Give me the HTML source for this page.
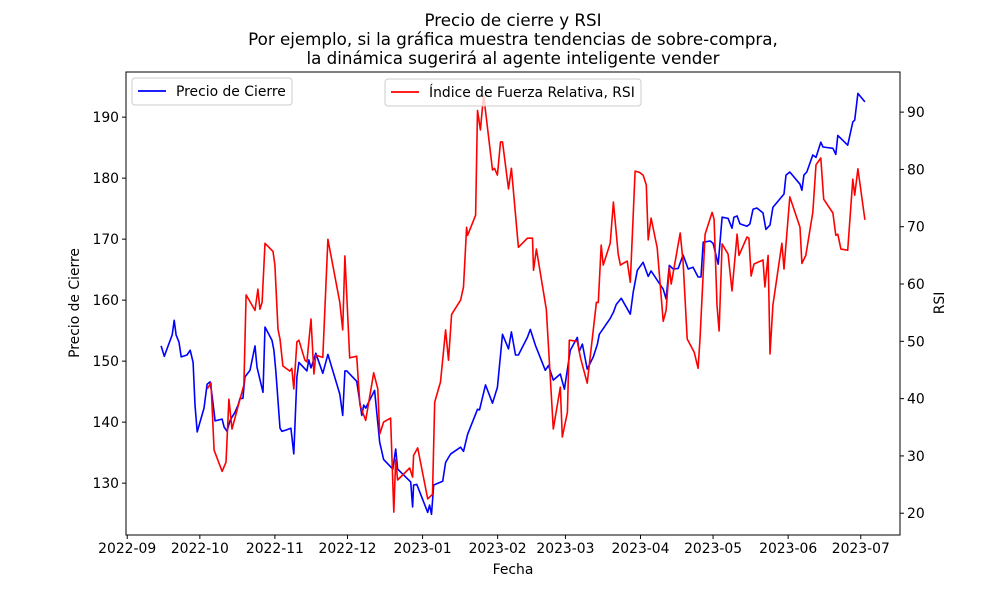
<!DOCTYPE html>
<html><head><meta charset="utf-8"><style>
body{margin:0;background:#fff;}
svg{display:block;font-family:"DejaVu Sans","Liberation Sans",sans-serif;}
</style></head><body>
<svg id="chart" width="1000" height="600"></svg>
<script>
const priceDays=[14.0,15.3,16.9,18.6,19.4,20.2,21.4,22.3,24.7,26.0,27.2,28.0,28.9,31.7,33.0,34.2,35.0,36.3,39.2,40.0,41.2,42.5,44.5,45.8,46.6,47.8,48.6,50.7,52.8,53.6,56.1,56.9,59.8,60.6,61.4,63.1,63.9,65.5,67.6,68.8,70.1,70.9,74.2,75.0,75.9,77.9,80.8,82.9,87.8,89.0,89.9,90.7,94.8,96.9,97.7,98.5,102.2,104.3,105.9,109.7,110.9,111.7,117.1,117.9,118.3,119.6,124.1,124.9,125.7,126.6,130.3,131.5,133.6,137.7,138.9,140.6,144.7,145.5,148.0,150.9,152.9,155.0,157.5,158.7,160.4,161.6,165.3,166.5,168.6,172.7,174.0,176.0,178.9,180.6,183.0,185.9,186.7,188.0,190.0,192.5,194.2,195.0,199.5,200.8,202.0,204.1,207.8,209.0,210.7,213.1,215.2,216.4,221.4,222.6,223.9,225.5,227.6,229.6,231.7,233.7,235.8,237.0,237.9,240.8,242.0,244.1,245.7,248.2,249.8,250.6,251.9,253.1,256.0,257.2,258.5,260.1,262.6,263.8,265.5,266.7,271.3,272.1,273.7,277.9,278.7,279.5,280.7,283.2,284.5,286.5,287.4,291.5,292.7,293.5,297.6,299.7,300.5,301.8,304.7];
const priceValues=[152.5,150.8,152.5,154.3,156.7,154.3,153.1,150.7,151.0,151.8,149.8,142.8,138.4,142.3,146.2,146.6,144.6,140.2,140.5,139.2,138.5,140.3,141.6,142.8,143.9,143.9,147.4,148.5,152.5,149.0,144.9,155.6,153.4,151.8,148.2,139.0,138.5,138.7,139.0,134.8,147.4,149.8,148.4,150.2,148.9,151.3,148.0,151.1,144.6,141.1,148.4,148.4,146.7,141.1,142.8,142.3,145.2,136.7,133.9,132.3,135.6,132.3,130.2,126.1,129.7,129.8,125.2,126.4,124.9,129.7,130.3,133.4,134.8,135.9,135.2,138.0,142.1,142.0,146.1,143.1,145.7,154.4,152.0,154.8,151.0,151.0,153.9,155.2,152.6,148.5,149.3,146.9,147.9,145.4,151.8,153.9,151.6,152.8,148.7,150.7,152.8,154.4,157.0,158.0,159.3,160.3,157.7,161.3,164.9,166.2,163.9,164.8,161.8,160.2,165.7,165.1,165.2,167.4,165.1,165.4,163.8,163.8,169.5,169.7,169.3,165.9,173.6,173.4,171.8,173.6,173.8,172.5,172.1,172.5,174.9,175.1,174.3,171.6,172.3,175.2,177.4,180.5,181.0,179.0,178.0,180.5,181.0,183.8,183.4,185.9,185.1,184.9,183.9,187.0,185.4,189.2,189.5,193.9,192.5];
const rsiDays=[33.0,34.6,35.9,39.2,40.8,42.0,43.3,46.6,48.2,49.1,52.8,54.0,54.8,55.7,56.9,60.2,61.0,62.3,63.1,64.3,67.2,68.0,68.8,70.1,70.9,73.4,74.2,75.9,77.1,77.9,80.8,82.9,87.8,89.0,89.9,91.9,94.8,96.1,98.5,101.8,103.5,104.3,105.9,108.8,110.1,110.9,111.7,116.7,117.9,118.3,120.0,124.1,126.1,127.0,129.4,131.5,132.7,134.0,137.7,138.9,140.2,140.6,143.9,144.7,145.9,147.2,150.9,151.7,152.9,154.2,155.0,157.5,158.7,161.6,165.3,167.4,167.8,169.0,173.1,176.0,178.9,179.7,181.8,182.6,185.9,187.2,190.0,191.3,193.8,194.6,195.8,196.6,199.5,200.8,202.8,203.7,206.5,207.8,209.8,211.5,213.1,214.4,215.2,216.4,218.9,221.4,222.6,223.9,224.7,228.4,229.6,231.3,234.2,235.8,236.6,238.7,241.6,242.4,243.6,244.5,245.7,248.2,249.8,251.9,252.7,256.0,256.8,257.7,258.9,262.6,263.4,264.7,265.5,266.7,270.4,271.3,273.7,277.9,278.7,280.3,283.2,284.5,286.5,287.7,291.5,292.7,293.5,294.8,297.6,299.7,300.5,301.8,304.7];
const rsiValues=[41.7,42.7,31.0,27.3,28.9,39.9,34.7,39.9,42.4,58.1,55.4,59.1,55.6,56.8,67.1,65.7,63.3,52.1,50.4,45.7,44.8,45.3,41.7,49.9,50.2,46.7,46.4,53.9,44.3,47.6,47.2,67.8,56.8,52.0,64.9,47.1,47.4,38.9,36.2,44.5,41.7,33.8,35.9,36.6,20.2,29.4,25.8,27.9,26.3,30.1,31.4,22.5,23.3,39.4,42.9,52.0,46.7,54.7,57.2,59.5,69.9,68.5,72.0,90.3,86.9,93.0,79.9,80.2,79.0,84.8,84.8,76.6,80.2,66.4,68.0,68.0,62.4,66.1,55.6,34.7,42.0,33.3,37.6,50.2,50.0,47.2,42.7,47.6,56.8,56.8,66.8,63.3,67.1,74.3,65.2,63.3,64.0,60.3,79.7,79.5,79.0,77.3,67.7,71.5,66.3,53.5,55.4,62.9,60.0,68.9,63.8,50.4,48.1,45.3,50.4,68.7,72.5,71.3,56.3,51.8,67.0,65.2,58.8,68.7,65.0,68.2,68.0,61.4,63.5,64.2,59.5,65.0,47.8,56.3,67.1,62.6,75.2,69.9,63.6,65.0,72.5,80.8,82.0,74.8,72.4,68.5,68.7,66.1,65.9,78.3,75.5,80.1,71.2];
const xTickLabels=["2022-09","2022-10","2022-11","2022-12","2023-01","2023-02","2023-03","2023-04","2023-05","2023-06","2023-07"];
const xTickDays=[0,30,61,91,122,153,181,212,242,273,303];
const priceTicks=[130,140,150,160,170,180,190];
const rsiTicks=[20,30,40,50,60,70,80,90];

const L=126,R=900,T=72,B=535;
const xMin=-0.5,xMax=319.2,pMin=121.5,pMax=197.4,rMin=16.2,rMax=97.0;
const sx=d=>L+(d-xMin)/(xMax-xMin)*(R-L);
const sp=v=>B-(v-pMin)/(pMax-pMin)*(B-T);
const sr=v=>B-(v-rMin)/(rMax-rMin)*(B-T);
const svg=document.getElementById('chart');
const NS='http://www.w3.org/2000/svg';
function el(tag,attrs,parent){const e=document.createElementNS(NS,tag);for(const k in attrs)e.setAttribute(k,attrs[k]);(parent||svg).appendChild(e);return e;}
function txt(s,attrs){const e=el('text',attrs);e.textContent=s;return e;}
const FS=13.9;

const tl=["Precio de cierre y RSI","Por ejemplo, si la gráfica muestra tendencias de sobre-compra,","la dinámica sugerirá al agente inteligente vender"];
tl.forEach((s,i)=>{const t=txt(s,{x:513,y:26+i*19,'text-anchor':'middle','font-size':16.7,fill:'#000'});

});

const pPts=priceDays.map((d,i)=>sx(d).toFixed(1)+','+sp(priceValues[i]).toFixed(1)).join(' ');
const pl=el('polyline',{points:pPts,fill:'none',stroke:'#0000ff','stroke-width':1.6,'stroke-linejoin':'round'});


const rPts=rsiDays.map((d,i)=>sx(d).toFixed(1)+','+sr(rsiValues[i]).toFixed(1)).join(' ');
const rl=el('polyline',{points:rPts,fill:'none',stroke:'#ff0000','stroke-width':1.6,'stroke-linejoin':'round'});



const fr=el('rect',{x:L,y:T,width:R-L,height:B-T,fill:'none',stroke:'#000','stroke-width':1});



xTickDays.forEach((d,i)=>{const x=sx(d);el('line',{x1:x,y1:B,x2:x,y2:B+4,stroke:'#000'});
const t=txt(xTickLabels[i],{x:x,y:B+18,'text-anchor':'middle','font-size':FS});

});
priceTicks.forEach(v=>{const y=sp(v);el('line',{x1:L-4,y1:y,x2:L,y2:y,stroke:'#000'});
const t=txt(String(v),{x:L-7,y:y+5,'text-anchor':'end','font-size':FS});

});
rsiTicks.forEach(v=>{const y=sr(v);el('line',{x1:R,y1:y,x2:R+4,y2:y,stroke:'#000'});
const t=txt(String(v),{x:R+7,y:y+5,'text-anchor':'start','font-size':FS});

});

let a=txt('Fecha',{x:513,y:574,'text-anchor':'middle','font-size':FS});


a=txt('Precio de Cierre',{x:0,y:0,'text-anchor':'middle','font-size':FS,transform:'translate(79,303) rotate(-90)'});


a=txt('RSI',{x:0,y:0,'text-anchor':'middle','font-size':FS,transform:'translate(944,303) rotate(-90)'});



function legend(x,y,w,color,label,name){const g=el('g',{});


el('rect',{x:x,y:y,width:w,height:27,rx:3,fill:'#fff','fill-opacity':0.8,stroke:'#ccc'},g);
el('line',{x1:x+6,y1:y+13,x2:x+34,y2:y+13,stroke:color,'stroke-width':1.8},g);
const t=el('text',{x:x+44,y:y+18,'font-size':FS},g);t.textContent=label;}
legend(132,78,160,'#0000ff','Precio de Cierre','legend-price');
legend(385,79,256,'#ff0000','Índice de Fuerza Relativa, RSI','legend-rsi');
</script>
</body></html>
